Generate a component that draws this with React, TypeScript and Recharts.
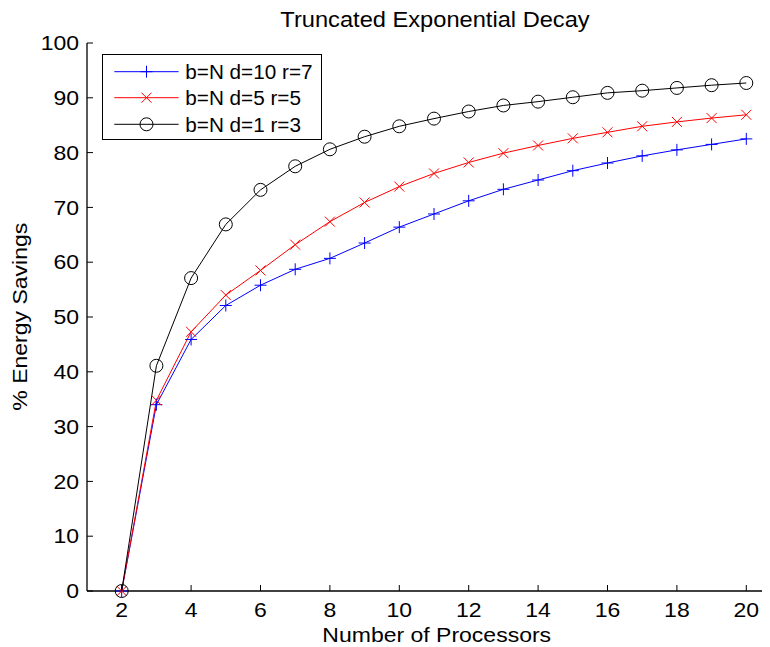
import React from 'react';
import { LineChart, Line, XAxis, YAxis } from 'recharts';

const processors = [2, 3, 4, 5, 6, 7, 8, 9, 10, 11, 12, 13, 14, 15, 16, 17, 18, 19, 20];
const seriesD10 = [0, 34.0, 45.9, 52.1, 55.8, 58.7, 60.7, 63.5, 66.4, 68.8, 71.2, 73.3, 75.0, 76.7, 78.1, 79.4, 80.5, 81.5, 82.5];
const seriesD5 = [0, 34.8, 47.3, 54.0, 58.5, 63.2, 67.4, 70.9, 73.8, 76.2, 78.2, 79.9, 81.3, 82.6, 83.7, 84.8, 85.6, 86.3, 86.9];
const seriesD1 = [0, 41.1, 57.1, 66.9, 73.2, 77.5, 80.6, 82.9, 84.8, 86.2, 87.5, 88.6, 89.3, 90.1, 90.9, 91.3, 91.8, 92.3, 92.7];
const seriesNames = ['b=N d=10 r=7', 'b=N d=5 r=5', 'b=N d=1 r=3'];
const xTicks = [2, 4, 6, 8, 10, 12, 14, 16, 18, 20];
const yTicks = [0, 10, 20, 30, 40, 50, 60, 70, 80, 90, 100];
const titleText = 'Truncated Exponential Decay';
const xLabelText = 'Number of Processors';
const yLabelText = '% Energy Savings';

const data = processors.map((p, i) => ({ p, d10: seriesD10[i], d5: seriesD5[i], d1: seriesD1[i] }));

const FONT = '"Liberation Sans", Arial, Helvetica, sans-serif';
const FS = 20;
const SX = 1.15;
const TICK = 6;

const PlusMark = ({ cx, cy, color }: any) => (
  <g>
    <line x1={cx - 6} y1={cy} x2={cx + 6} y2={cy} stroke={color} strokeWidth={1} />
    <line x1={cx} y1={cy - 6} x2={cx} y2={cy + 6} stroke={color} strokeWidth={1} />
  </g>
);
const CrossMark = ({ cx, cy, color }: any) => (
  <g>
    <line x1={cx - 5} y1={cy - 5} x2={cx + 5} y2={cy + 5} stroke={color} strokeWidth={1} />
    <line x1={cx - 5} y1={cy + 5} x2={cx + 5} y2={cy - 5} stroke={color} strokeWidth={1} />
  </g>
);
const CircleMark = ({ cx, cy, color }: any) => (
  <circle cx={cx} cy={cy} r={6.5} fill="none" stroke={color} strokeWidth={1} />
);

const seriesStyles = [
  { key: 'd10', color: '#0000ff', Mark: PlusMark },
  { key: 'd5', color: '#ff0000', Mark: CrossMark },
  { key: 'd1', color: '#000000', Mark: CircleMark },
];

const X_MARGIN = 26;
const Y_MARGIN = 8;

const BottomTick = (props: any) => {
  const { x, y, payload } = props;
  const axisY = y - X_MARGIN;
  return (
    <g>
      <line x1={x} y1={axisY} x2={x} y2={axisY - TICK} stroke="#000" strokeWidth={1} />
      <text transform={`translate(${x},${y}) scale(${SX},1)`} textAnchor="middle" fontFamily={FONT} fontSize={FS} fill="#000">
        {payload.value}
      </text>
    </g>
  );
};

const TopTick = (props: any) => {
  const { x, y } = props;
  return <line x1={x} y1={y} x2={x} y2={y + TICK} stroke="#000" strokeWidth={1} />;
};

const LeftTick = (props: any) => {
  const { x, y, payload } = props;
  const axisX = x + Y_MARGIN;
  return (
    <g>
      <line x1={axisX} y1={y} x2={axisX + TICK} y2={y} stroke="#000" strokeWidth={1} />
      <text transform={`translate(${x},${y}) scale(${SX},1)`} dy="0.36em" textAnchor="end" fontFamily={FONT} fontSize={FS} fill="#000">
        {payload.value}
      </text>
    </g>
  );
};

const Legendbox = () => {
  const rowY = [17.7, 43.7, 70.3];
  return (
    <svg width={220} height={86} style={{ position: 'absolute', left: 93.5, top: 45.5 }}>
      <rect x={0.5} y={0.5} width={219} height={85} fill="#fff" stroke="#000" strokeWidth={1} />
      {seriesStyles.map((s, i) => (
        <g key={s.key}>
          <line x1={12.3} y1={rowY[i]} x2={76.6} y2={rowY[i]} stroke={s.color} strokeWidth={1} />
          <s.Mark cx={44.5} cy={rowY[i]} color={s.color} />
          <text transform={`translate(83.3,${rowY[i]}) scale(1.02,1)`} dy="0.36em" fontFamily={FONT} fontSize={20.3} fill="#000">
            {seriesNames[i]}
          </text>
        </g>
      ))}
    </svg>
  );
};

export default function App() {
  return (
    <div style={{ position: 'relative', width: 762, height: 639, overflow: 'hidden', background: '#fff' }}>
      <LineChart width={780} height={639} data={data} margin={{ top: 35, right: 7, left: 0, bottom: 0 }}>
        <XAxis
          xAxisId="top"
          orientation="top"
          dataKey="p"
          type="number"
          domain={[1, 21]}
          ticks={xTicks}
          height={0}
          tickSize={0}
          tickMargin={0}
          tick={<TopTick />}
          axisLine={{ stroke: '#000', strokeWidth: 1.3 }}
        />
        <XAxis
          xAxisId="b"
          dataKey="p"
          type="number"
          domain={[1, 21]}
          ticks={xTicks}
          height={56}
          tickSize={0}
          tickMargin={X_MARGIN}
          tick={<BottomTick />}
          axisLine={{ stroke: '#000', strokeWidth: 1.3 }}
          interval={0}
        />
        <YAxis
          type="number"
          domain={[0, 100]}
          ticks={yTicks}
          width={79}
          tickSize={0}
          tickMargin={Y_MARGIN}
          tick={<LeftTick />}
          axisLine={{ stroke: '#000', strokeWidth: 1.3 }}
          interval={0}
        />
        {seriesStyles.map((s) => (
          <Line
            key={s.key}
            xAxisId="b"
            dataKey={s.key}
            type="linear"
            stroke={s.color}
            strokeWidth={1}
            isAnimationActive={false}
            dot={(p: any) => <s.Mark key={`${s.key}-${p.index}`} cx={p.cx} cy={p.cy} color={s.color} />}
            activeDot={false}
          />
        ))}
      </LineChart>
      <svg width={762} height={639} style={{ position: 'absolute', left: 0, top: 0, pointerEvents: 'none' }}>
        <text transform={`translate(427,18.7) scale(1.1,1)`} textAnchor="middle" fontFamily={FONT} fontSize={21.5} fill="#000">
          {titleText}
        </text>
        <text transform={`translate(428.7,633.7) scale(${SX},1)`} textAnchor="middle" fontFamily={FONT} fontSize={FS} fill="#000">
          {xLabelText}
        </text>
        <text transform={`translate(18.7,308.7) rotate(-90) scale(${SX},1)`} textAnchor="middle" fontFamily={FONT} fontSize={FS} fill="#000">
          {yLabelText}
        </text>
      </svg>
      <Legendbox />
    </div>
  );
}
